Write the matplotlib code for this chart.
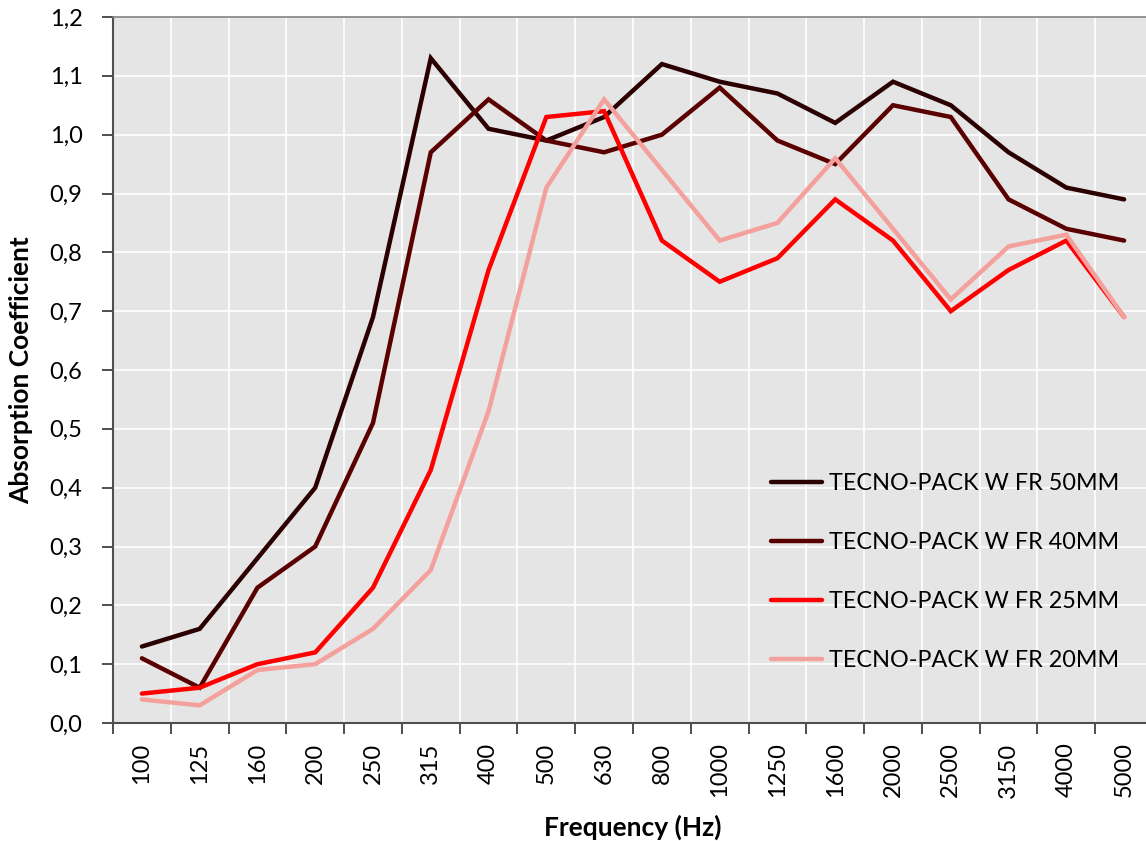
import matplotlib
matplotlib.use("Agg")
import matplotlib.pyplot as plt
import numpy as np

freqs = ["100", "125", "160", "200", "250", "315", "400", "500", "630", "800",
         "1000", "1250", "1600", "2000", "2500", "3150", "4000", "5000"]
s50 = [0.13, 0.16, 0.28, 0.40, 0.69, 1.13, 1.01, 0.99, 1.03, 1.12, 1.09, 1.07, 1.02, 1.09, 1.05, 0.97, 0.91, 0.89]
s40 = [0.11, 0.06, 0.23, 0.30, 0.51, 0.97, 1.06, 0.99, 0.97, 1.00, 1.08, 0.99, 0.95, 1.05, 1.03, 0.89, 0.84, 0.82]
s25 = [0.05, 0.06, 0.10, 0.12, 0.23, 0.43, 0.77, 1.03, 1.04, 0.82, 0.75, 0.79, 0.89, 0.82, 0.70, 0.77, 0.82, 0.69]
s20 = [0.04, 0.03, 0.09, 0.10, 0.16, 0.26, 0.53, 0.91, 1.06, 0.94, 0.82, 0.85, 0.96, 0.84, 0.72, 0.81, 0.83, 0.69]
names = ["TECNO-PACK W FR 50MM", "TECNO-PACK W FR 40MM", "TECNO-PACK W FR 25MM", "TECNO-PACK W FR 20MM"]
colors = ["#2b0000", "#5a0000", "#ff0000", "#f4a09c"]
yticks = [0.0, 0.1, 0.2, 0.3, 0.4, 0.5, 0.6, 0.7, 0.8, 0.9, 1.0, 1.1, 1.2]

plt.rcParams['font.family'] = ['Lato', 'DejaVu Sans']

fig = plt.figure(figsize=(11.46, 8.41), dpi=100)
ax = fig.add_axes([113/1146, 1-723/841, (1153-113)/1146, (723-17)/841])
ax.set_facecolor("#e5e5e5")

x = np.arange(len(freqs))
for vals, nm, c in zip([s50, s40, s25, s20], names, colors):
    ax.plot(x, vals, color=c, lw=3.2, label=nm, solid_capstyle='round', solid_joinstyle='miter')

ax.set_xlim(-0.5, len(freqs)-0.5)
ax.set_ylim(0, 1.2)
ax.set_yticks(yticks)
ax.set_yticklabels([f"{v:.1f}".replace(".", ",") for v in yticks], fontsize=17)
ax.set_xticks(x)
ax.set_xticklabels(freqs, rotation=90, fontsize=17)
ax.set_xticks(np.arange(len(freqs)+1)-0.5, minor=True)
ax.tick_params(axis='x', which='major', length=0, pad=14)
ax.tick_params(axis='x', which='minor', length=8, width=1.3, color="#404040")
ax.tick_params(axis='y', length=8, width=1.3, color="#404040", pad=14)

ax.grid(True, axis='y', which='major', color='white', lw=1.2)
ax.grid(True, axis='x', which='minor', color='white', lw=1.2)
ax.set_axisbelow(True)

for sp in ['left', 'bottom']:
    ax.spines[sp].set_color("#505050")
    ax.spines[sp].set_linewidth(1.5)
ax.spines['top'].set_color("#808080")
ax.spines['top'].set_linewidth(1.2)
ax.spines['right'].set_visible(False)

ax.set_xlabel("Frequency (Hz)", fontsize=19, fontweight='bold', labelpad=12)
ax.set_ylabel("Absorption Coefficient", fontsize=19, fontweight='bold', labelpad=12)

leg = ax.legend(loc='center left', bbox_to_anchor=(750/1146, 1-572/841), bbox_transform=fig.transFigure,
                frameon=False, fontsize=16.8, handlelength=2.2, handletextpad=0.3, labelspacing=1.62)

fig.savefig("out.png", dpi=100)
